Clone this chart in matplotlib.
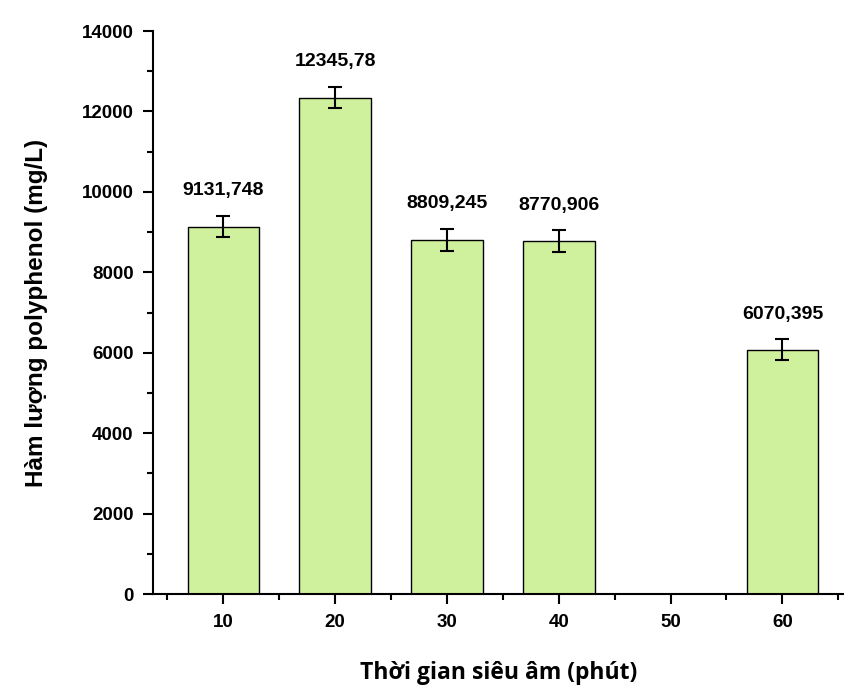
import matplotlib.pyplot as plt
from matplotlib.ticker import MultipleLocator

# du lieu doc tu hinh
times = [10, 20, 30, 40, 60]
polyphenol = [9131.748, 12345.78, 8809.245, 8770.906, 6070.395]
errors = [260, 270, 270, 270, 260]
labels = ['9131,748', '12345,78', '8809,245', '8770,906', '6070,395']
x_ticks = [10, 20, 30, 40, 50, 60]

plt.rcParams['font.family'] = ['Liberation Sans', 'DejaVu Sans']

fig = plt.figure(figsize=(8.45, 6.9), dpi=100)
ax = fig.add_axes([0.181, 0.139, 0.819, 0.816])

ax.bar(times, polyphenol, width=6.4, color='#cff09c', edgecolor='black', linewidth=1.0,
       yerr=errors, error_kw=dict(ecolor='black', elinewidth=1.5, capsize=5, capthick=1.5))

for x, y, e, t in zip(times, polyphenol, errors, labels):
    ax.text(x, y + e + 420, t, ha='center', va='bottom', fontsize=14, fontweight='bold')

ax.set_xlim(3.7, 65.6)
ax.set_ylim(0, 14000)
ax.set_xticks(x_ticks)
ax.set_xticks([5, 15, 25, 35, 45, 55, 65], minor=True)
ax.yaxis.set_major_locator(MultipleLocator(2000))
ax.yaxis.set_minor_locator(MultipleLocator(1000))

ax.spines['top'].set_visible(False)
ax.spines['right'].set_visible(False)
ax.spines['left'].set_linewidth(1.5)
ax.spines['bottom'].set_linewidth(1.5)
ax.tick_params(which='major', direction='out', length=7, width=1.5, labelsize=13.5, pad=7)
ax.tick_params(which='minor', direction='out', length=4, width=1.5)
for lb in ax.get_xticklabels() + ax.get_yticklabels():
    lb.set_fontweight('bold')

ax.set_xlabel('Thời gian siêu âm (phút)', fontsize=16.5, fontweight='bold',
              family=['Open Sans', 'DejaVu Sans'], labelpad=22)
ax.set_ylabel('Hàm lượng polyphenol (mg/L)', fontsize=17.5, fontweight='bold',
              labelpad=24)

fig.savefig('out.png', dpi=100)
